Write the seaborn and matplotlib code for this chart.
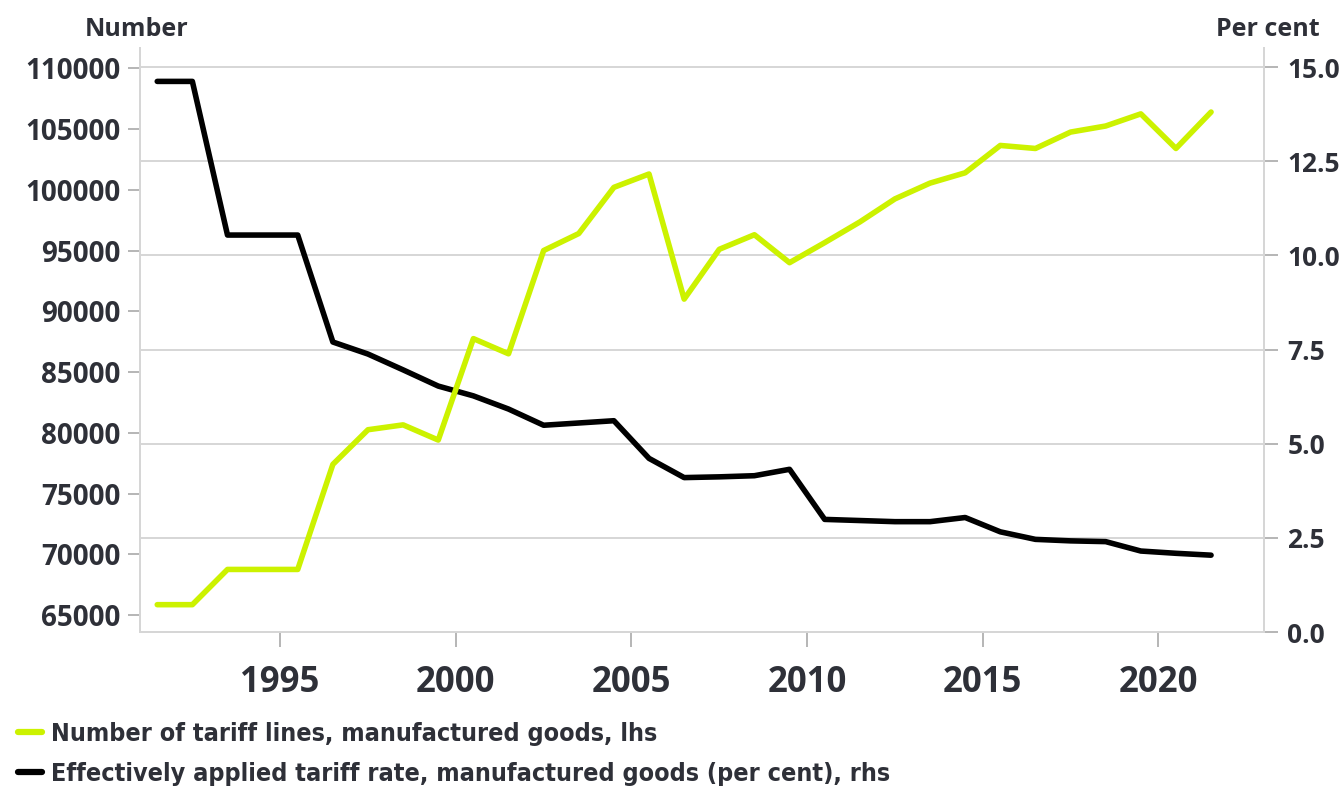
"""
Tariff lines vs. effectively applied tariff rate, manufactured goods.

Two series on twin y-axes: number of tariff lines (lhs) and the
effectively applied tariff rate in per cent (rhs), 1991-2021.

Output
------
out.png
"""

import pandas as pd
import seaborn as sns
import matplotlib.pyplot as plt
from matplotlib.lines import Line2D
from matplotlib.ticker import MultipleLocator, FuncFormatter

# -----------------------------------
# Data
# -----------------------------------

years = list(range(1991, 2022))

tariff_lines = [
    65850, 65850, 68750, 68750, 68750, 77400, 80250, 80650, 79400, 87750,
    86500, 95000, 96400, 100200, 101300, 91000, 95100, 96300, 94000, 95650,
    97350, 99250, 100550, 101400, 103650, 103400, 104750, 105250, 106250,
    103400, 106400,
]

tariff_rate = [
    14.62, 14.62, 10.54, 10.54, 10.54, 7.70, 7.38, 6.96, 6.53, 6.27,
    5.92, 5.49, 5.55, 5.61, 4.61, 4.10, 4.12, 4.15, 4.32, 2.99,
    2.96, 2.93, 2.93, 3.04, 2.66, 2.46, 2.42, 2.40, 2.15, 2.09, 2.04,
]

label_lines = "Number of tariff lines, manufactured goods, lhs"
label_rate = "Effectively applied tariff rate, manufactured goods (per cent), rhs"

# annual values are plotted at mid-year
data = pd.DataFrame({
    "year": [y + 0.5 for y in years],
    "lines": tariff_lines,
    "rate": tariff_rate,
})

# -----------------------------------
# Styling
# -----------------------------------

sns.set_theme(style="white")
plt.rcParams["font.family"] = ["Open Sans", "DejaVu Sans"]
plt.rcParams["font.weight"] = "bold"

lime = "#ccf200"
ink = "#2e3038"
rule = "#d6d6d6"

fig, ax = plt.subplots(figsize=(13.43, 7.91), dpi=100)
fig.subplots_adjust(left=0.104, right=0.941, bottom=0.201, top=0.939)
ax2 = ax.twinx()

# -----------------------------------
# Lines
# -----------------------------------

sns.lineplot(data=data, x="year", y="lines", ax=ax, color=lime,
             linewidth=4.0, zorder=3)
sns.lineplot(data=data, x="year", y="rate", ax=ax2, color="black",
             linewidth=4.0, zorder=3)

# -----------------------------------
# Axes
# -----------------------------------

ax.set_xlim(1991, 2023)
ax.set_ylim(63600, 111650)
ax2.set_ylim(0, 15.5)

ax.xaxis.set_major_locator(MultipleLocator(5))
ax.yaxis.set_major_locator(MultipleLocator(5000))
ax2.yaxis.set_major_locator(MultipleLocator(2.5))
ax.yaxis.set_major_formatter(FuncFormatter(lambda v, p: f"{v:.0f}"))
ax2.yaxis.set_major_formatter(FuncFormatter(lambda v, p: f"{v:.1f}"))

ax.set_xlabel("")
ax.set_ylabel("")
ax2.set_ylabel("")

# gridlines follow the right-hand scale
ax.grid(False)
ax2.grid(axis="y", color=rule, linewidth=1.4)
ax2.set_zorder(ax.get_zorder() - 1)
ax.patch.set_visible(False)

for a in (ax, ax2):
    for loc, spine in a.spines.items():
        spine.set_visible(loc != "top")
        spine.set_color(rule)
        spine.set_linewidth(1.4)

ax.tick_params(axis="y", length=9, width=1.3, color="#b0b0b0",
               labelsize=20, labelcolor=ink, pad=5, left=True)
ax.tick_params(axis="x", length=11, width=1.3, color="#b0b0b0",
               labelsize=25, labelcolor=ink, pad=13, bottom=True)
ax2.tick_params(axis="y", length=10, width=1.3, color="#b0b0b0",
                labelsize=19, labelcolor=ink, pad=7, right=True)

# -----------------------------------
# Axis titles
# -----------------------------------

fig.text(0.102, 0.963, "Number", ha="center", va="center",
         fontsize=18, color=ink, fontweight="bold")
fig.text(0.944, 0.963, "Per cent", ha="center", va="center",
         fontsize=18, color=ink, fontweight="bold")

# -----------------------------------
# Legend
# -----------------------------------

handles = [
    Line2D([0], [0], color=lime, linewidth=4.5),
    Line2D([0], [0], color="black", linewidth=4.5),
]
leg = fig.legend(
    handles, [label_lines, label_rate],
    loc="upper left", bbox_to_anchor=(0.006, 0.1),
    frameon=False, handlelength=0.95, handletextpad=0.35,
    labelspacing=0.65, borderaxespad=0,
    prop={"family": ["Liberation Sans Narrow", "DejaVu Sans"],
          "weight": "bold", "size": 18, "stretch": "condensed"},
)
for t in leg.get_texts():
    t.set_color(ink)

fig.savefig("out.png", dpi=100)
